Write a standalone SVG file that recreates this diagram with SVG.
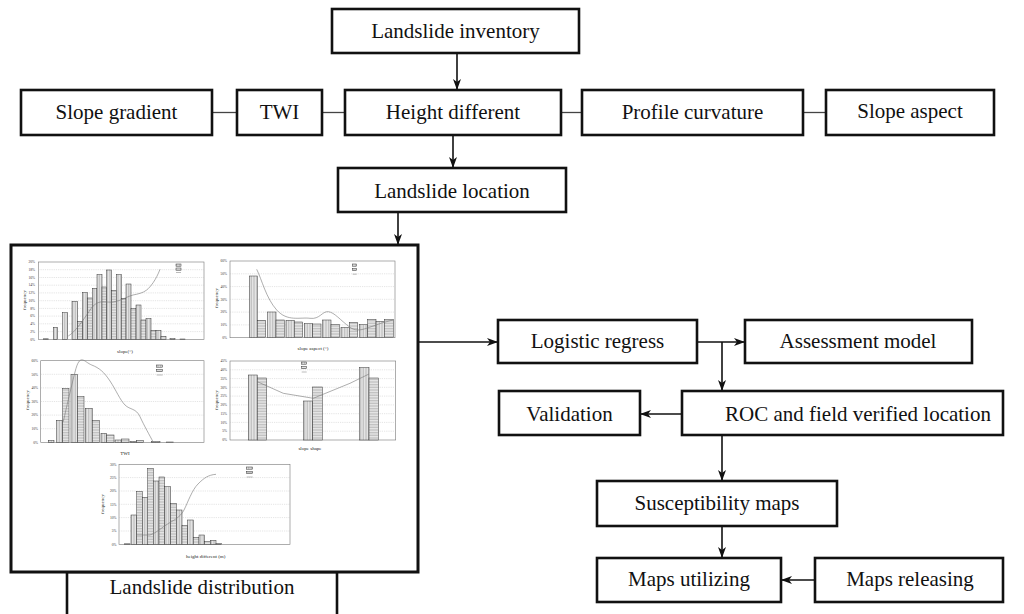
<svg xmlns="http://www.w3.org/2000/svg" width="1024" height="614" viewBox="0 0 1024 614">
<style>
.box{fill:#fff;stroke:#111;stroke-width:2.6}
.lbl{font-family:"Liberation Serif","Times New Roman",serif;font-size:21px;fill:#111;text-anchor:middle}
.con{stroke:#111;stroke-width:1.6;fill:none}
.thin{stroke:#444;stroke-width:1.3;fill:none}
.arr{marker-end:url(#ah)}
.frame{fill:#fff;stroke:#777;stroke-width:0.6}
.grid{stroke:#bbb;stroke-width:0.4;stroke-dasharray:1.2 1}
.b1{fill:url(#pv);stroke:#333;stroke-width:0.5}
.b2{fill:url(#ph);stroke:#333;stroke-width:0.5}
.curve{fill:none;stroke:#777;stroke-width:0.6}
.tk{font-family:"Liberation Serif",serif;font-size:3.6px;fill:#333;text-anchor:end}
.ax{font-family:"Liberation Serif",serif;font-size:5px;fill:#222;text-anchor:middle}
</style>
<defs>
<marker id="ah" markerUnits="userSpaceOnUse" markerWidth="12" markerHeight="8" refX="11" refY="4" orient="auto">
<path d="M0,0 L11,4 L0,8 L3,4 z" fill="#111"/>
</marker>
<pattern id="pv" width="1.6" height="4" patternUnits="userSpaceOnUse"><rect width="1.6" height="4" fill="#f0f0f0"/><line x1="0.5" y1="0" x2="0.5" y2="4" stroke="#8a8a8a" stroke-width="0.5"/></pattern>
<pattern id="ph" width="4" height="1.6" patternUnits="userSpaceOnUse"><rect width="4" height="1.6" fill="#f0f0f0"/><line x1="0" y1="0.5" x2="4" y2="0.5" stroke="#8a8a8a" stroke-width="0.5"/></pattern>
</defs>
<rect width="1024" height="614" fill="#fff"/>

<g id="connectors">
<line class="con arr" x1="457" y1="53" x2="457" y2="90"/>
<line class="thin" x1="212" y1="112.5" x2="237" y2="112.5"/>
<line class="thin" x1="322" y1="112.5" x2="345" y2="112.5"/>
<line class="thin" x1="561" y1="112.5" x2="582" y2="112.5"/>
<line class="thin" x1="803" y1="112.5" x2="826" y2="112.5"/>
<line class="con arr" x1="453" y1="135" x2="453" y2="168"/>
<line class="con arr" x1="398" y1="212" x2="398" y2="245"/>
<line class="con arr" x1="418" y1="342" x2="498" y2="342"/>
<line class="con arr" x1="697" y1="342" x2="745" y2="342"/>
<line class="con arr" x1="722" y1="342" x2="722" y2="391"/>
<line class="con arr" x1="682" y1="414" x2="640" y2="414"/>
<line class="con arr" x1="722" y1="435" x2="722" y2="481"/>
<line class="con arr" x1="722" y1="526" x2="722" y2="558"/>
<line class="con arr" x1="815" y1="580" x2="781" y2="580"/>
</g>

<g id="n-inventory"><rect class="box" x="332" y="9" width="247" height="44"/><text class="lbl" x="455.5" y="38">Landslide inventory</text></g>
<g id="n-slope-gradient"><rect class="box" x="21" y="90" width="191" height="45"/><text class="lbl" x="116.5" y="119">Slope gradient</text></g>
<g id="n-twi"><rect class="box" x="237" y="90" width="85" height="45"/><text class="lbl" x="279.5" y="119">TWI</text></g>
<g id="n-height"><rect class="box" x="345" y="90" width="216" height="45"/><text class="lbl" x="453" y="119">Height different</text></g>
<g id="n-profile"><rect class="box" x="582" y="90" width="221" height="45"/><text class="lbl" x="692.5" y="119">Profile curvature</text></g>
<g id="n-aspect"><rect class="box" x="826" y="90" width="168" height="45"/><text class="lbl" x="910" y="118">Slope aspect</text></g>
<g id="n-location"><rect class="box" x="338" y="168" width="228" height="44"/><text class="lbl" x="452" y="198">Landslide location</text></g>

<g id="n-distribution">
<rect class="box" x="67" y="572" width="270" height="50"/>
<rect x="11" y="245" width="407" height="327" fill="#fff" stroke="#111" stroke-width="3"/>
<text class="lbl" x="202" y="594">Landslide distribution</text>

<!-- chart 1 slope -->
<g id="chart-slope">
<rect class="frame" x="38.3" y="262" width="165.7" height="77.3"/>
<path class="grid" d="M38.3,269.7H204M38.3,277.5H204M38.3,285.2H204M38.3,292.9H204M38.3,300.7H204M38.3,308.4H204M38.3,316.1H204M38.3,323.8H204M38.3,331.6H204"/>
<rect class="b1" x="43.3" y="338.8" width="5" height="0.5"/>
<rect class="b1" x="53.3" y="327.3" width="4.4" height="12"/>
<rect class="b1" x="62.7" y="312.7" width="5" height="26.6"/>
<rect class="b1" x="72" y="301.3" width="5.7" height="38"/>
<rect class="b2" x="77.7" y="321.3" width="5" height="18"/>
<rect class="b1" x="82.7" y="292.7" width="5" height="46.6"/>
<rect class="b2" x="87.7" y="298" width="4.6" height="41.3"/>
<rect class="b1" x="92.3" y="288.3" width="4.7" height="51"/>
<rect class="b1" x="97" y="274.7" width="5" height="64.6"/>
<rect class="b2" x="102" y="287" width="4.7" height="52.3"/>
<rect class="b1" x="106.7" y="270" width="5" height="69.3"/>
<rect class="b2" x="111.7" y="290.3" width="4.6" height="49"/>
<rect class="b1" x="116.3" y="274.7" width="5" height="64.6"/>
<rect class="b2" x="121.3" y="298.3" width="4.7" height="41"/>
<rect class="b1" x="126" y="284" width="5" height="55.3"/>
<rect class="b2" x="131" y="308.7" width="5" height="30.6"/>
<rect class="b1" x="136" y="305" width="5" height="34.3"/>
<rect class="b2" x="141" y="320" width="5" height="19.3"/>
<rect class="b1" x="146" y="318.7" width="5" height="20.6"/>
<rect class="b2" x="151" y="330.3" width="5" height="9"/>
<rect class="b1" x="156" y="330.3" width="5" height="9"/>
<rect class="b2" x="161" y="336.3" width="5" height="3"/>
<rect class="b1" x="170" y="338.7" width="5" height="0.6"/>
<rect class="b2" x="180" y="339" width="5" height="0.3"/>
<path class="curve" d="M68.3,336 C75,332 82,322 90,310 S105,303 113,302 S128,296 133,295 S143,293 146.7,290 S156,280 160,269.3"/>
<rect class="b1" x="176" y="264" width="5" height="2.2"/><rect class="b2" x="176" y="268" width="5" height="2.2"/><line x1="176" y1="272.5" x2="181" y2="272.5" stroke="#777" stroke-width="0.5"/>
<g class="tk"><text x="35" y="340.5">0%</text><text x="35" y="332.8">2%</text><text x="35" y="325">4%</text><text x="35" y="317.3">6%</text><text x="35" y="309.6">8%</text><text x="35" y="301.9">10%</text><text x="35" y="294.1">12%</text><text x="35" y="286.4">14%</text><text x="35" y="278.7">16%</text><text x="35" y="270.9">18%</text><text x="35" y="263.2">20%</text></g>
<text class="ax" x="125" y="353">slope(°)</text>
<text class="ax" transform="translate(26,300) rotate(-90)">frequency</text>
</g>

<!-- chart 2 aspect -->
<g id="chart-aspect">
<rect class="frame" x="230" y="261" width="165" height="76.7"/>
<path class="grid" d="M230,273.8H395M230,286.6H395M230,299.3H395M230,312.1H395M230,324.9H395"/>
<rect class="b1" x="249.3" y="276" width="8" height="61.7"/>
<rect class="b2" x="257.3" y="320.3" width="8.4" height="17.4"/>
<rect class="b1" x="267.7" y="312" width="8.3" height="25.7"/>
<rect class="b2" x="276" y="320" width="8.3" height="17.7"/>
<rect class="b1" x="286" y="320.3" width="8.3" height="17.4"/>
<rect class="b2" x="294.3" y="322" width="8.4" height="15.7"/>
<rect class="b1" x="304.3" y="323.7" width="8.4" height="14"/>
<rect class="b2" x="312.7" y="324" width="8.3" height="13.7"/>
<rect class="b1" x="322.7" y="320" width="8.3" height="17.7"/>
<rect class="b2" x="331" y="324.3" width="8.3" height="13.4"/>
<rect class="b1" x="341" y="327.3" width="8.3" height="10.4"/>
<rect class="b2" x="349.3" y="322.3" width="8.4" height="15.4"/>
<rect class="b1" x="359.3" y="324.7" width="8.4" height="13"/>
<rect class="b2" x="367.7" y="319.3" width="8.3" height="18.4"/>
<rect class="b1" x="376" y="321.3" width="8.3" height="16.4"/>
<rect class="b2" x="384.3" y="319.7" width="9" height="18"/>
<path class="curve" d="M256.7,269.3 C262,280 266,298 276.7,310 S300,317 310,318.3 S322,311 328.3,311.7 S340,320 350,327.3 S370,325 393.3,320"/>
<rect class="b1" x="352.7" y="264" width="4" height="2.2"/><rect class="b2" x="352.7" y="268.5" width="4" height="2.2"/><line x1="352.7" y1="274.2" x2="356.7" y2="274.2" stroke="#777" stroke-width="0.5"/>
<g class="tk"><text x="227" y="339">0%</text><text x="227" y="326.2">10%</text><text x="227" y="313.4">20%</text><text x="227" y="300.6">30%</text><text x="227" y="287.9">40%</text><text x="227" y="275.1">50%</text><text x="227" y="262.3">60%</text></g>
<text class="ax" x="313" y="350">slope aspect (°)</text>
<text class="ax" transform="translate(218,298) rotate(-90)">frequency</text>
</g>

<!-- chart 3 TWI -->
<g id="chart-twi">
<rect class="frame" x="40.7" y="360.7" width="163.3" height="81.6"/>
<path class="grid" d="M40.7,374.3H204M40.7,387.9H204M40.7,401.5H204M40.7,415.1H204M40.7,428.7H204"/>
<rect class="b1" x="48.3" y="440.3" width="5.7" height="2"/>
<rect class="b1" x="56.7" y="420.3" width="6" height="22"/>
<rect class="b2" x="62.7" y="388.3" width="6.3" height="54"/>
<rect class="b1" x="71" y="374.3" width="6.7" height="68"/>
<rect class="b2" x="77.7" y="396.7" width="6.3" height="45.6"/>
<rect class="b1" x="85.3" y="408.3" width="7" height="34"/>
<rect class="b2" x="92.3" y="420.3" width="7" height="22"/>
<rect class="b1" x="101" y="433.3" width="5.7" height="9"/>
<rect class="b2" x="106.7" y="435" width="7.3" height="7.3"/>
<rect class="b1" x="115" y="440" width="6.7" height="2.3"/>
<rect class="b2" x="121.7" y="439" width="7.3" height="3.3"/>
<rect class="b1" x="130" y="441.3" width="6.7" height="1"/>
<rect class="b2" x="136.7" y="440.7" width="6.6" height="1.6"/>
<rect class="b1" x="151.7" y="441.7" width="8.3" height="0.6"/>
<rect class="b2" x="166.7" y="442" width="6.6" height="0.3"/>
<path class="curve" d="M63.3,421.7 C67,405 70,392 75,372 S84,362 91.7,365 S104,372 110,381 S120,400 125,405 S136,408 140,416.7 S150,436 153.3,442.3"/>
<rect class="b1" x="156.7" y="365" width="6" height="2.2"/><rect class="b2" x="156.7" y="369.5" width="6" height="2.2"/><line x1="156.7" y1="375" x2="162.7" y2="375" stroke="#777" stroke-width="0.5"/>
<g class="tk"><text x="38" y="443.5">0%</text><text x="38" y="429.9">10%</text><text x="38" y="416.3">20%</text><text x="38" y="402.7">30%</text><text x="38" y="389.1">40%</text><text x="38" y="375.5">50%</text><text x="38" y="361.9">60%</text></g>
<text class="ax" x="125" y="455">TWI</text>
<text class="ax" transform="translate(29,400) rotate(-90)">frequency</text>
</g>

<!-- chart 4 slope shape -->
<g id="chart-shape">
<rect class="frame" x="230" y="361" width="165.7" height="79"/>
<path class="grid" d="M230,369.8H395.7M230,378.6H395.7M230,387.3H395.7M230,396.1H395.7M230,404.9H395.7M230,413.7H395.7M230,422.4H395.7M230,431.2H395.7"/>
<rect class="b1" x="248.3" y="375" width="9" height="65"/>
<rect class="b2" x="257.3" y="378" width="9.4" height="62"/>
<rect class="b1" x="303.3" y="401" width="9.4" height="39"/>
<rect class="b2" x="312.7" y="387" width="9.6" height="53"/>
<rect class="b1" x="359.3" y="367.7" width="9.7" height="72.3"/>
<rect class="b2" x="369" y="378" width="9.3" height="62"/>
<path class="curve" d="M257.3,381.7 L283.3,393.3 L313.3,398.3 L350,383.3 L369,374"/>
<rect class="b1" x="301.7" y="362" width="5" height="2.2"/><rect class="b2" x="301.7" y="366.5" width="5" height="2.2"/><line x1="301.7" y1="372" x2="306.7" y2="372" stroke="#777" stroke-width="0.5"/>
<g class="tk"><text x="227" y="441.2">0%</text><text x="227" y="432.4">5%</text><text x="227" y="423.6">10%</text><text x="227" y="414.9">15%</text><text x="227" y="406.1">20%</text><text x="227" y="397.3">25%</text><text x="227" y="388.5">30%</text><text x="227" y="379.8">35%</text><text x="227" y="371">40%</text><text x="227" y="362.2">45%</text></g>
<text class="ax" x="310" y="450">slope shape</text>
<text class="ax" transform="translate(218,400) rotate(-90)">frequency</text>
</g>

<!-- chart 5 height different -->
<g id="chart-height">
<rect class="frame" x="119" y="464.3" width="171" height="80"/>
<path class="grid" d="M119,477.6H290M119,491H290M119,504.3H290M119,517.6H290M119,531H290"/>
<rect class="b2" x="124.3" y="543.8" width="5.7" height="0.5"/>
<rect class="b1" x="131" y="515" width="5.7" height="29.3"/>
<rect class="b2" x="136.7" y="491.7" width="5.6" height="52.6"/>
<rect class="b1" x="142.3" y="497.3" width="6" height="47"/>
<rect class="b2" x="147.7" y="468.3" width="5.6" height="76"/>
<rect class="b1" x="153.3" y="481" width="5.7" height="63.3"/>
<rect class="b2" x="159" y="477" width="5.7" height="67.3"/>
<rect class="b1" x="164.7" y="486.7" width="6" height="57.6"/>
<rect class="b2" x="170.7" y="503.3" width="5.6" height="41"/>
<rect class="b1" x="176.3" y="510" width="5.7" height="34.3"/>
<rect class="b2" x="182" y="525.7" width="5.7" height="18.6"/>
<rect class="b1" x="187.7" y="520" width="5.6" height="24.3"/>
<rect class="b2" x="193.3" y="537.3" width="5.7" height="7"/>
<rect class="b1" x="199" y="535" width="5.7" height="9.3"/>
<rect class="b2" x="204.7" y="541.7" width="5.6" height="2.6"/>
<rect class="b1" x="210.3" y="540.3" width="5.7" height="4"/>
<rect class="b2" x="216" y="543.3" width="5.7" height="1"/>
<path class="curve" d="M136.7,535 L150,535 C156,533 160,529 166,525 S180,518 184,510 S192,490 198,484 S208,475 216,474.3"/>
<rect class="b1" x="246.7" y="467" width="6" height="2.2"/><rect class="b2" x="246.7" y="471.5" width="6" height="2.2"/><line x1="246.7" y1="477" x2="252.7" y2="477" stroke="#777" stroke-width="0.5"/>
<g class="tk"><text x="116.5" y="545.5">0%</text><text x="116.5" y="532.2">5%</text><text x="116.5" y="518.8">10%</text><text x="116.5" y="505.5">15%</text><text x="116.5" y="492.2">20%</text><text x="116.5" y="478.8">25%</text><text x="116.5" y="465.5">30%</text></g>
<text class="ax" x="205.7" y="558">height different (m)</text>
<text class="ax" transform="translate(104,504) rotate(-90)">frequency</text>
</g>
</g>

<g id="n-logistic"><rect class="box" x="498" y="320" width="199" height="43"/><text class="lbl" x="597.5" y="348">Logistic regress</text></g>
<g id="n-assessment"><rect class="box" x="745" y="320" width="227" height="43"/><text class="lbl" x="858" y="348">Assessment model</text></g>
<g id="n-validation"><rect class="box" x="499" y="391" width="141" height="44"/><text class="lbl" x="569.5" y="421">Validation</text></g>
<g id="n-roc"><rect class="box" x="682" y="391" width="321" height="44"/><text class="lbl" x="858" y="421">ROC and field verified location</text></g>
<g id="n-susceptibility"><rect class="box" x="597" y="481" width="240" height="45"/><text class="lbl" x="717" y="509.5">Susceptibility maps</text></g>
<g id="n-utilizing"><rect class="box" x="597" y="558" width="184" height="44"/><text class="lbl" x="689" y="586">Maps utilizing</text></g>
<g id="n-releasing"><rect class="box" x="815" y="558" width="188" height="44"/><text class="lbl" x="910" y="586">Maps releasing</text></g>
</svg>
